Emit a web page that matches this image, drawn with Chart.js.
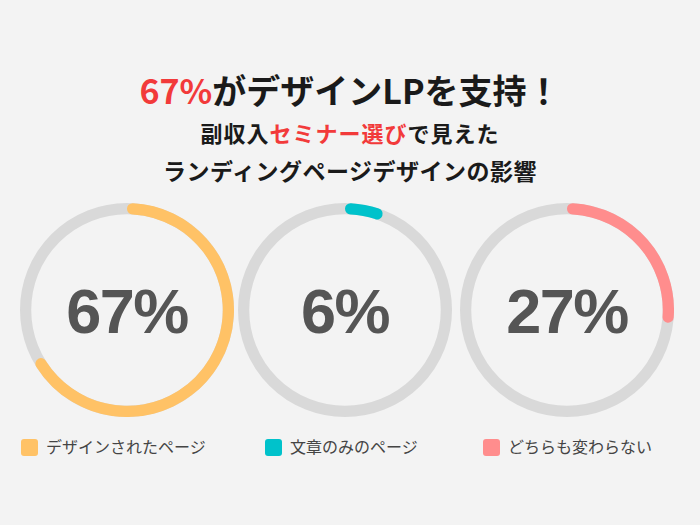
<!DOCTYPE html>
<html lang="ja">
<head>
<meta charset="UTF-8">
<title>67%がデザインLPを支持！</title>
<script src="https://cdn.jsdelivr.net/npm/chart.js"></script>
<style>
  html, body { margin: 0; padding: 0; }
  body {
    width: 700px; height: 525px; position: relative; overflow: hidden;
    background: #f3f3f3;
    font-family: "Noto Sans CJK JP", "Noto Sans", sans-serif;
  }
  .t { position: absolute; left: 0; width: 700px; text-align: center; font-weight: 700; color: #1a1a1a; white-space: nowrap; }
  .t1 { top: 66px; font-size: 34px; line-height: 48px; }
  .t2 { top: 116px; font-size: 22px; line-height: 32px; letter-spacing: 1px; }
  .t3 { top: 154px; font-size: 23px; line-height: 32px; letter-spacing: 0.5px; }
  .red { color: #f23a3a; }
  canvas { position: absolute; }
  .lg { position: absolute; top: 436px; font-size: 16px; line-height: 20px; color: #444; white-space: nowrap; }
  .lg i { display: inline-block; width: 17px; height: 17px; border-radius: 3px; vertical-align: -3px; margin-right: 8px; }
</style>
</head>
<body>
<div class="t t1"><span class="red">67%</span>がデザインLPを支持！</div>
<div class="t t2">副収入<span class="red">セミナー選び</span>で見えた</div>
<div class="t t3">ランディングページデザインの影響</div>

<canvas id="c0" width="214" height="214" style="left:20px;top:203px"></canvas>
<canvas id="c1" width="214" height="214" style="left:238px;top:203px"></canvas>
<canvas id="c2" width="214" height="214" style="left:460px;top:203px"></canvas>

<div class="lg" id="l0" style="left:21px"></div>
<div class="lg" id="l1" style="left:265px"></div>
<div class="lg" id="l2" style="left:483px"></div>

<script>
const categories = ['デザインされたページ', '文章のみのページ', 'どちらも変わらない'];
const shares = [67, 6, 27];
const centerLabels = ['67%', '6%', '27%'];
const colors = ['#ffc266', '#00c2cb', '#ff8d8d'];

// gray track under the coloured arc
const trackPlugin = {
  id: 'track',
  beforeDatasetsDraw(chart) {
    const arc = chart.getDatasetMeta(0).data[0];
    if (!arc) return;
    const ctx = chart.ctx;
    const r = (arc.outerRadius + arc.innerRadius) / 2;
    ctx.save();
    ctx.beginPath();
    ctx.arc(arc.x, arc.y, r, 0, Math.PI * 2);
    ctx.lineWidth = arc.outerRadius - arc.innerRadius;
    ctx.strokeStyle = '#d9d9d9';
    ctx.stroke();
    ctx.restore();
  }
};

// big percentage in the middle
const centerPlugin = {
  id: 'center',
  afterDraw(chart, args, opts) {
    const arc = chart.getDatasetMeta(0).data[0];
    if (!arc) return;
    const ctx = chart.ctx;
    ctx.save();
    ctx.font = '700 63px "Liberation Sans", Arial, sans-serif';
    ctx.letterSpacing = '-1.5px';
    ctx.fillStyle = '#555555';
    ctx.textAlign = 'center';
    ctx.textBaseline = 'alphabetic';
    ctx.fillText(opts.text, arc.x, arc.y + 23);
    ctx.restore();
  }
};

shares.forEach((v, i) => {
  new Chart(document.getElementById('c' + i), {
    type: 'doughnut',
    data: {
      labels: [categories[i], ''],
      datasets: [{
        data: [v, 100 - v],
        backgroundColor: [colors[i], 'rgba(0,0,0,0)'],
        borderWidth: 0,
        borderRadius: [10, 0]
      }]
    },
    options: {
      responsive: false,
      animation: false,
      cutout: '89.5%',
      plugins: {
        legend: { display: false },
        tooltip: { enabled: false },
        center: { text: centerLabels[i] }
      }
    },
    plugins: [trackPlugin, centerPlugin]
  });

  const lg = document.getElementById('l' + i);
  const box = document.createElement('i');
  box.style.background = colors[i];
  lg.appendChild(box);
  lg.appendChild(document.createTextNode(categories[i]));
});
</script>
</body>
</html>
